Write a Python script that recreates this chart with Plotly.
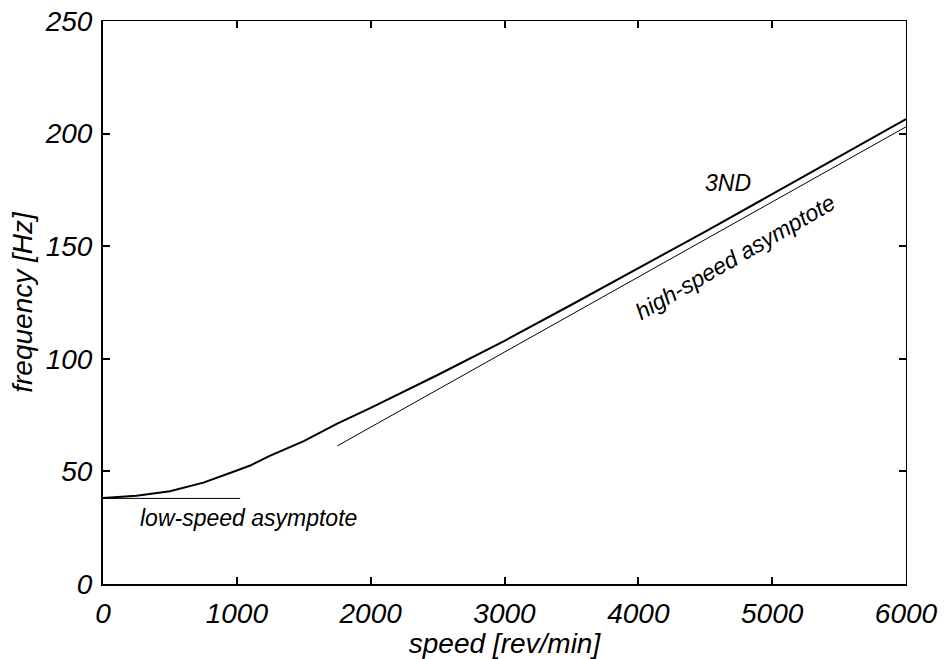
import plotly.graph_objects as go

# 3ND frequency curve
speed_3nd = [0, 250, 500, 750, 1000, 1100, 1250, 1500, 1750, 2000, 2500, 3000, 3500, 4000, 4500, 5000, 5500, 6000]
freq_3nd = [38.2, 39.2, 41.2, 45.0, 50.4, 52.6, 57.0, 63.4, 71.2, 78.2, 92.8, 108.0, 124.0, 140.1, 156.5, 173.1, 189.6, 206.4]

# asymptotes
low_speed = [0, 1025]
low_freq = [38.0, 38.0]
high_speed = [1750, 6000]
high_freq = [61.3, 203.0]

x_ticks = [0, 1000, 2000, 3000, 4000, 5000, 6000]
y_ticks = [0, 50, 100, 150, 200, 250]

FONT = "Liberation Sans, Arial, sans-serif"

fig = go.Figure()
fig.add_trace(go.Scatter(x=speed_3nd, y=freq_3nd, mode="lines",
                         line=dict(color="black", width=2), showlegend=False, hoverinfo="skip"))
fig.add_trace(go.Scatter(x=low_speed, y=low_freq, mode="lines",
                         line=dict(color="black", width=1), showlegend=False, hoverinfo="skip"))
fig.add_trace(go.Scatter(x=high_speed, y=high_freq, mode="lines",
                         line=dict(color="black", width=1), showlegend=False, hoverinfo="skip"))
# invisible trace to activate mirror axes
fig.add_trace(go.Scatter(x=[None], y=[None], xaxis="x2", yaxis="y2", showlegend=False, hoverinfo="skip"))

tickfont = dict(family=FONT, size=28, color="black", style="italic")
labelfont = dict(family=FONT, size=23, color="black", style="italic")

fig.update_layout(
    width=945, height=659,
    margin=dict(l=103, r=39, t=21, b=75),
    paper_bgcolor="white", plot_bgcolor="white",
    xaxis=dict(range=[0, 6000], tickvals=x_ticks, ticktext=[str(v) for v in x_ticks],
               ticks="inside", ticklen=7, tickwidth=1.5, tickcolor="black", automargin=False,
               showline=True, linewidth=2, linecolor="black", showgrid=False, zeroline=False,
               tickfont=tickfont, ticklabelstandoff=3,
               title=dict(text="speed [rev/min]", standoff=6,
                          font=dict(family=FONT, size=28, color="black", style="italic"))),
    yaxis=dict(range=[0, 250], tickvals=y_ticks, ticktext=[str(v) for v in y_ticks],
               ticks="inside", ticklen=7, tickwidth=1.5, tickcolor="black", automargin=False,
               showline=True, linewidth=2, linecolor="black", showgrid=False, zeroline=False,
               tickfont=tickfont, ticklabelstandoff=3,
               title=dict(text="frequency [Hz]", standoff=4,
                          font=dict(family=FONT, size=28, color="black", style="italic"))),
    xaxis2=dict(range=[0, 6000], tickvals=x_ticks, overlaying="x", side="top",
                ticks="inside", ticklen=7, tickwidth=1.5, tickcolor="black", automargin=False,
                showline=True, linewidth=1.3, linecolor="black", showgrid=False, zeroline=False,
                showticklabels=False),
    yaxis2=dict(range=[0, 250], tickvals=y_ticks, overlaying="y", side="right",
                ticks="inside", ticklen=7, tickwidth=1.5, tickcolor="black", automargin=False,
                showline=True, linewidth=1.3, linecolor="black", showgrid=False, zeroline=False,
                showticklabels=False),
    annotations=[
        dict(x=1084, y=29.3, xref="x", yref="y", text="low-speed asymptote",
             showarrow=False, font=labelfont),
        dict(x=4671, y=178, xref="x", yref="y", text="3ND",
             showarrow=False, font=labelfont),
        dict(x=4723, y=145.2, xref="x", yref="y", text="high-speed asymptote", textangle=-30,
             showarrow=False, font=labelfont),
    ],
)

fig.write_html("out.html")
